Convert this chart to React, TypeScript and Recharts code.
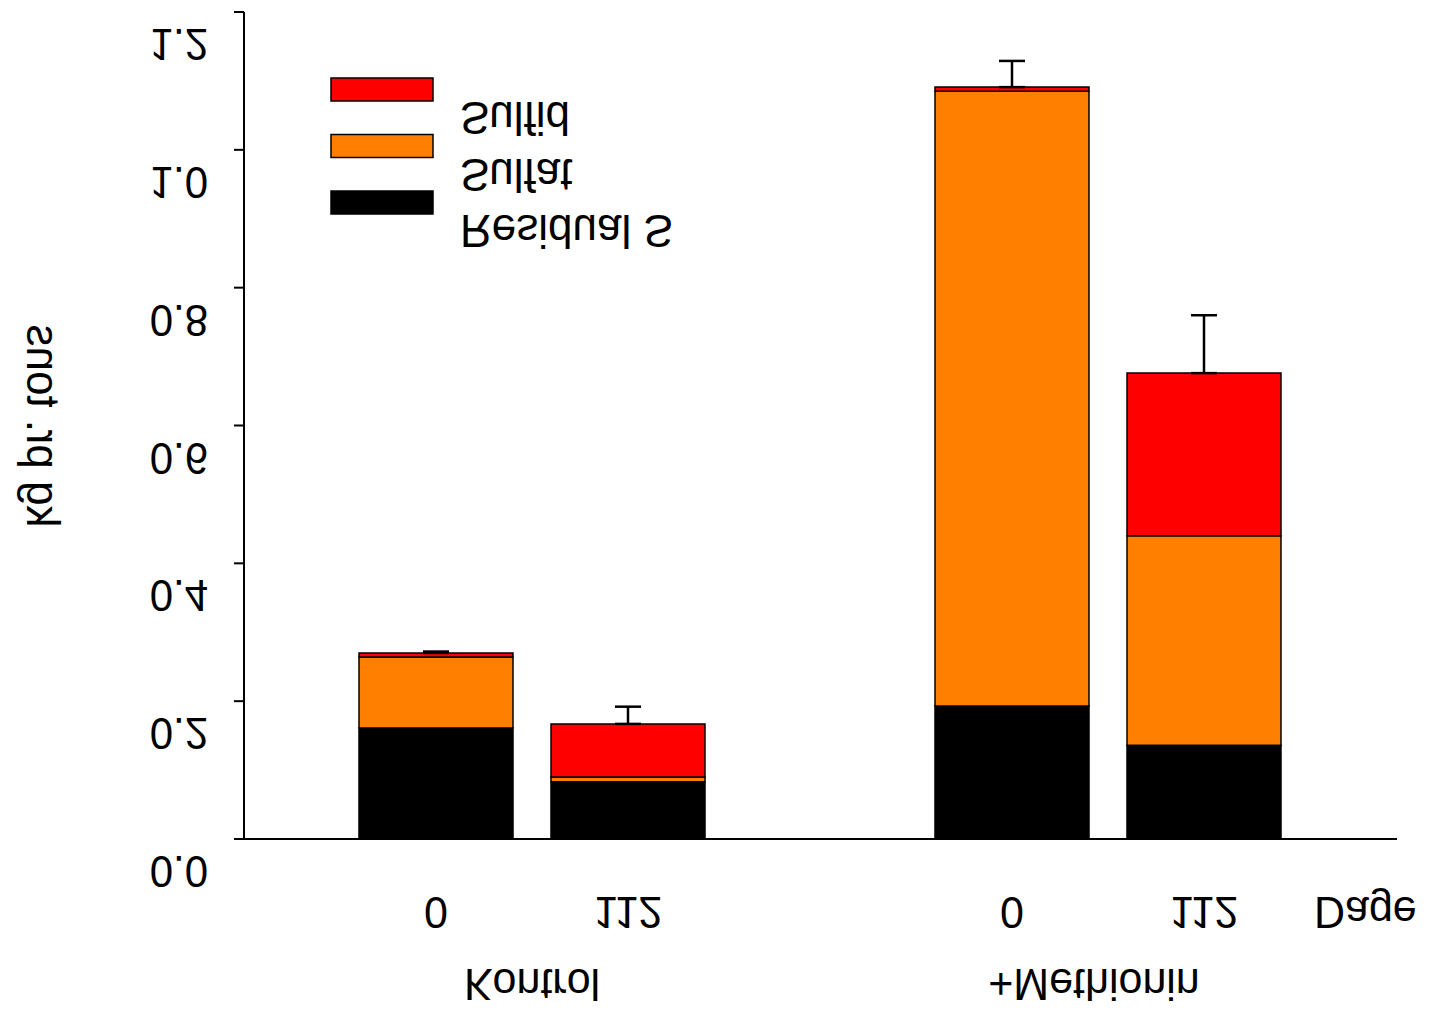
import React from 'react';
import { BarChart, Bar, XAxis, YAxis, ErrorBar, Customized } from 'recharts';

// groups along the x axis: Kontrol 0/112 days, a blank slot, +Methionin 0/112 days
const ids = ['k0', 'k112', 'gap', 'm0', 'm112'];
const dayLabels = ['0', '112', '', '0', '112'];
const residual = [0.161, 0.083, null, 0.193, 0.136];
const sulfat = [0.103, 0.007, null, 0.892, 0.304];
const sulfid = [0.006, 0.077, null, 0.006, 0.236];
const sdUpper = [0.002, 0.025, null, 0.038, 0.084];
const yTicks = [0, 0.2, 0.4, 0.6, 0.8, 1.0, 1.2];

const groupLabels: Record<number, { text: string; dx: number }> = {
  0: { text: 'Kontrol', dx: 0 },
  3: { text: '+Methionin', dx: -14 },
};

const data = ids.map((id, i) => ({
  id,
  day: dayLabels[i],
  residual: residual[i],
  sulfat: sulfat[i],
  sulfid: sulfid[i],
  err: sdUpper[i] == null ? null : [0, sdUpper[i]],
}));

const W = 1429;
const H = 1011;
const AXIS_W = 244;
const RIGHT = 32;
const PAD_L = 96;
const PAD_R = 97;
const BAND = (W - AXIS_W - RIGHT - PAD_L - PAD_R) / ids.length;

const FONT = '"Liberation Sans", Arial, Helvetica, sans-serif';

// every label is mirrored about its own baseline
const Flipped = ({ x, y, size, anchor, children }: any) => (
  <g transform={`translate(${x},${y}) scale(1,-1.05)`}>
    <text x={0} y={0} textAnchor={anchor} fontSize={size} fontFamily={FONT} fill="#000">
      {children}
    </text>
  </g>
);

const YTick = ({ x, y, payload }: any) => (
  <Flipped x={x} y={y + 17} size={42} anchor="end">
    {Number(payload.value).toFixed(1)}
  </Flipped>
);

const XTick = ({ x, y, payload, index }: any) => {
  const row = data.find((d) => d.id === payload.value);
  const group = groupLabels[index];
  return (
    <g>
      {row && row.day ? (
        <Flipped x={x} y={y + 58} size={43} anchor="middle">
          {row.day}
        </Flipped>
      ) : null}
      {group ? (
        <Flipped x={x + BAND / 2 + group.dx} y={y + 130} size={43} anchor="middle">
          {group.text}
        </Flipped>
      ) : null}
    </g>
  );
};

const legendItems = [
  { name: 'Sulfid', color: '#FF0000' },
  { name: 'Sulfat', color: '#FF8000' },
  { name: 'Residual S', color: '#000000' },
];

const Extras = () => (
  <g>
    {legendItems.map((it, i) => (
      <g key={it.name}>
        <rect x={331} y={78 + i * 56.5} width={102} height={23} fill={it.color} stroke="#000" strokeWidth={1.5} />
        <Flipped x={460} y={102 + i * 56.5} size={44} anchor="start">
          {it.name}
        </Flipped>
      </g>
    ))}
    <Flipped x={1314} y={897} size={43} anchor="start">
      Dage
    </Flipped>
    <g transform="translate(27,426) rotate(-90) scale(1,-1.05)">
      <text x={0} y={0} textAnchor="middle" fontSize={44} fontFamily={FONT} fill="#000">
        kg pr. tons
      </text>
    </g>
  </g>
);

export default function App() {
  return (
    <div style={{ position: 'absolute', left: 0, top: 0, background: '#fff' }}>
      <BarChart
        width={W}
        height={H}
        data={data}
        margin={{ top: 12, right: RIGHT, left: 0, bottom: 0 }}
        barSize={154}
      >
        <XAxis
          dataKey="id"
          height={172}
          padding={{ left: PAD_L, right: PAD_R }}
          tickLine={false}
          tickSize={0}
          tickMargin={0}
          axisLine={{ stroke: '#000', strokeWidth: 2 }}
          tick={<XTick />}
          interval={0}
        />
        <YAxis
          width={AXIS_W}
          domain={[0, 1.2]}
          ticks={yTicks}
          tickSize={10}
          tickMargin={26}
          tickLine={{ stroke: '#000', strokeWidth: 2 }}
          axisLine={{ stroke: '#000', strokeWidth: 2 }}
          tick={<YTick />}
          interval={0}
        />
        <Bar dataKey="residual" stackId="s" fill="#000000" stroke="#000" strokeWidth={1.5} isAnimationActive={false} />
        <Bar dataKey="sulfat" stackId="s" fill="#FF8000" stroke="#000" strokeWidth={1.5} isAnimationActive={false} />
        <Bar dataKey="sulfid" stackId="s" fill="#FF0000" stroke="#000" strokeWidth={1.5} isAnimationActive={false}>
          <ErrorBar dataKey="err" direction="y" width={13} stroke="#000" strokeWidth={2.5} isAnimationActive={false} />
        </Bar>
        <Customized component={Extras} />
      </BarChart>
    </div>
  );
}
